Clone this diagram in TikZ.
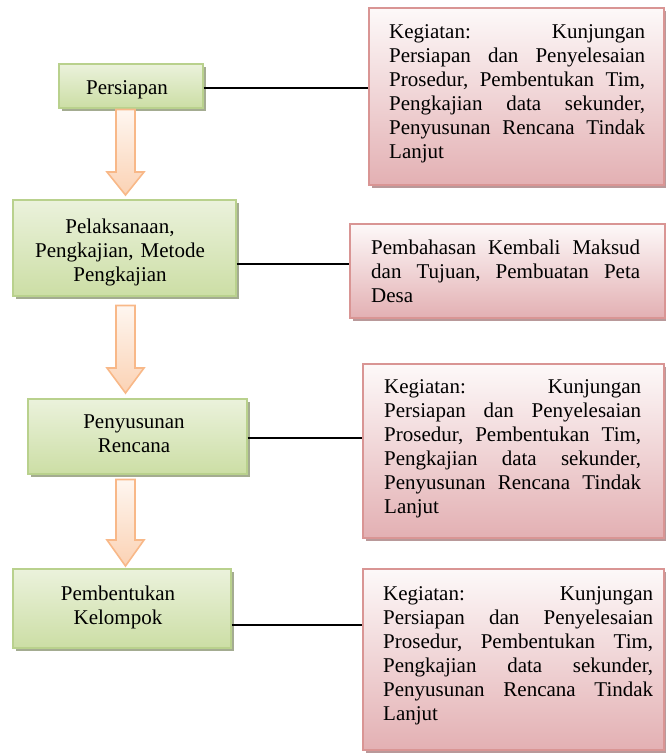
\documentclass[tikz,border=0pt]{standalone}
\usepackage{fontspec}
\setmainfont{Liberation Serif}
\usetikzlibrary{shadows,calc}
\definecolor{gtop}{HTML}{EBF2DC}
\definecolor{gbot}{HTML}{CCDEA5}
\definecolor{gborder}{HTML}{B9D18D}
\definecolor{gshadow}{HTML}{A4AC91}
\definecolor{ptop}{HTML}{FDF9F9}
\definecolor{pbot}{HTML}{E3B0B3}
\definecolor{pborder}{HTML}{D99594}
\definecolor{pshadow}{HTML}{B9999A}
\definecolor{atop}{HTML}{FEF6F0}
\definecolor{abot}{HTML}{FBD2B4}
\definecolor{aborder}{HTML}{F8B888}
\hbadness=10000
\newdimen\jw
\newcommand\jline[1]{\hbox to \jw{#1}\par}
\newcommand\blockarrow[5]{%
  \path let \p1=(#1.south), \p2=(#2.north) in
    [arrowsty] (116pt,\y1-#3pt) -- (135pt,\y1-#3pt) -- (135pt,\y2+#4pt+#5pt)
    -- (144pt,\y2+#4pt+#5pt) -- (125.5pt,\y2+#4pt) -- (107pt,\y2+#4pt+#5pt)
    -- (116pt,\y2+#4pt+#5pt) -- cycle;}
\begin{document}
\begin{tikzpicture}[x=1pt,y=-1pt,
  gbox/.style={draw=gborder, line width=1.5pt, top color=gtop, bottom color=gbot,
    inner sep=0pt, anchor=north west,
    drop shadow={shadow xshift=3pt, shadow yshift=-3pt, fill=gshadow, opacity=1}},
  pbox/.style={draw=pborder, line width=1.5pt, top color=ptop, bottom color=pbot,
    inner sep=0pt, anchor=north west,
    drop shadow={shadow xshift=3pt, shadow yshift=-3pt, fill=pshadow, opacity=1}},
  gtext/.style={inner sep=0pt, anchor=base, align=center, text width=220pt,
    font=\fontsize{21}{24}\selectfont},
  ptext/.style={inner sep=0pt, anchor=base west, align=left,
    font=\fontsize{21}{24}\selectfont},
  conn/.style={draw=black, line width=1.8pt},
  arrowsty/.style={top color=atop, bottom color=abot, draw=aborder, line width=1.6pt, line join=miter}]
\useasboundingbox (0,0) rectangle (665,753);
% green boxes
\node[gbox, minimum width=144pt, minimum height=44pt] (g1) at (58,63) {};
\node[gbox, minimum width=223pt, minimum height=96pt] (g2) at (12,199) {};
\node[gbox, minimum width=219pt, minimum height=75pt] (g3) at (27,398) {};
\node[gbox, minimum width=218pt, minimum height=79pt] (g4) at (12,568) {};
% pink boxes
\node[pbox, minimum width=295pt, minimum height=177pt] (p1) at (368,7) {};
\node[pbox, minimum width=315pt, minimum height=94pt] (p2) at (349,223) {};
\node[pbox, minimum width=301pt, minimum height=174pt] (p3) at (362,363) {};
\node[pbox, minimum width=301pt, minimum height=181pt] (p4) at (362,568) {};
% green texts
\node[gtext] (t1) at (127,94) {Persiapan};
\node[gtext] (t2) at (120,233) {Pelaksanaan,\\Pengkajian, Metode\\Pengkajian};
\node[gtext] (t3) at (134,428) {Penyusunan\\Rencana};
\node[gtext] (t4) at (118,600) {Pembentukan\\Kelompok};
% pink texts
\node[ptext, text width=256pt] (q1) at (389,38) {\jw=256pt
  \jline{Kegiatan:\hfill Kunjungan}\jline{Persiapan\hfill dan\hfill Penyelesaian}\jline{Prosedur,\hfill Pembentukan\hfill Tim,}\jline{Pengkajian\hfill data\hfill sekunder,}\jline{Penyusunan\hfill Rencana\hfill Tindak}Lanjut};
\node[ptext, text width=269pt] (q2) at (371,254) {\jw=269pt
  \jline{Pembahasan\hfill Kembali\hfill Maksud}\jline{dan\hfill Tujuan,\hfill Pembuatan\hfill Peta}Desa};
\node[ptext, text width=257pt] (q3) at (384,393) {\jw=257pt
  \jline{Kegiatan:\hfill Kunjungan}\jline{Persiapan\hfill dan\hfill Penyelesaian}\jline{Prosedur,\hfill Pembentukan\hfill Tim,}\jline{Pengkajian\hfill data\hfill sekunder,}\jline{Penyusunan\hfill Rencana\hfill Tindak}Lanjut};
\node[ptext, text width=270pt] (q4) at (383,600) {\jw=270pt
  \jline{Kegiatan:\hfill Kunjungan}\jline{Persiapan\hfill dan\hfill Penyelesaian}\jline{Prosedur,\hfill Pembentukan\hfill Tim,}\jline{Pengkajian\hfill data\hfill sekunder,}\jline{Penyusunan\hfill Rencana\hfill Tindak}Lanjut};
% connectors
\draw[conn] ([yshift=-2pt]g1.east) -- ([yshift=-2pt]g1.east -| p1.west);
\draw[conn] ([yshift=-16pt]g2.east) -- ([yshift=-16pt]g2.east -| p2.west);
\draw[conn] ([yshift=-1.5pt]g3.east) -- ([yshift=-1.5pt]g3.east -| p3.west);
\draw[conn] ([yshift=-16.5pt]g4.east) -- ([yshift=-16.5pt]g4.east -| p4.west);
% block arrows
\blockarrow{g1}{g2}{1}{4}{23}
\blockarrow{g2}{g3}{9}{5}{25}
\blockarrow{g3}{g4}{5}{2}{26}
\end{tikzpicture}
\end{document}
